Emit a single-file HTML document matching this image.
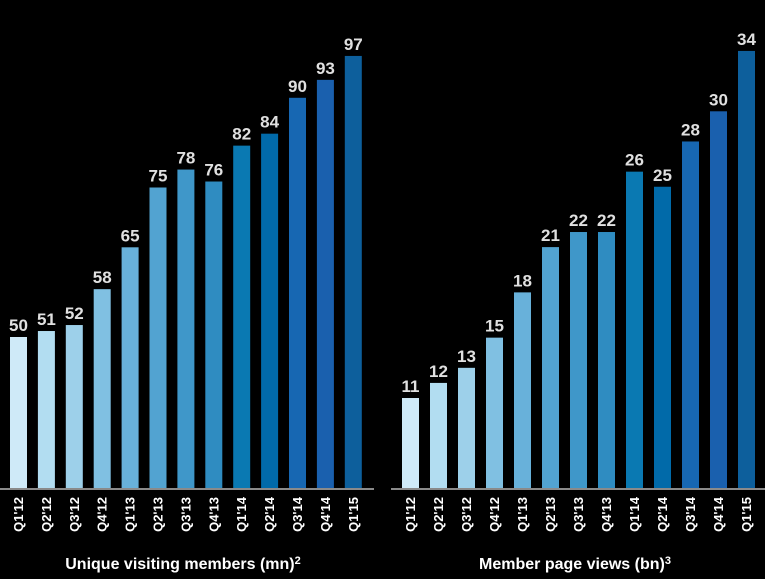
<!DOCTYPE html>
<html><head><meta charset="utf-8"><style>
html,body{margin:0;padding:0;background:#000;width:765px;height:579px;overflow:hidden}
svg{display:block}
text{font-family:"Liberation Sans",sans-serif;font-weight:bold}
</style></head><body>
<svg id="chart" width="765" height="579"></svg>
<script>
const categories=["Q1'12","Q2'12","Q3'12","Q4'12","Q1'13","Q2'13","Q3'13","Q4'13","Q1'14","Q2'14","Q3'14","Q4'14","Q1'15"];
const membersValues=[50,51,52,58,65,75,78,76,82,84,90,93,97];
const pageViewsValues=[11,12,13,15,18,21,22,22,26,25,28,30,34];
const colors=["#cfeaf8","#b2ddf1","#9dd0ea","#80c0e2","#68b1da","#52a3d1","#3f97c9","#2f8cc1","#0a79b2","#016aa9","#1767b2","#1a60ae","#0d5f9c"];
const svg=document.getElementById('chart');
const NS='http://www.w3.org/2000/svg';
function mk(tag,attrs){const e=document.createElementNS(NS,tag);for(const k in attrs)e.setAttribute(k,attrs[k]);svg.appendChild(e);return e;}
function drawChart(name,values,x0,pitch,base,a,b,axisX1,axisX2,title,titleX,sup){
  const yScale=v=>a-b*v;
  const baseY=489;
  values.forEach((v,i)=>{
    const x=x0+i*pitch;
    const y=yScale(v);
    const r=mk('rect',{x:x,y:y,width:17,height:baseY-y,fill:colors[i]});
    
    
    const t=mk('text',{x:x+8.5,y:y-6,'text-anchor':'middle','font-size':'17',fill:'#e0e0e0'});
    t.textContent=v;
    
    
    const c=mk('text',{x:0,y:0,'text-anchor':'end','font-size':'13',fill:'#fff',transform:'translate('+(x+13)+',497) rotate(-90)'});
    c.textContent=categories[i];
    
    
  });
  const l=mk('rect',{x:axisX1,y:488,width:axisX2-axisX1,height:2,fill:'#8a8a8a'});
  
  
  const tt=mk('text',{x:titleX,y:569,'text-anchor':'middle','font-size':'16',fill:'#fff'});
  tt.textContent=title;
  const s=document.createElementNS(NS,'tspan');s.setAttribute('font-size','11');s.setAttribute('dy','-5');s.textContent=sup;tt.appendChild(s);
  
  
}
drawChart('members',membersValues,10,27.9,25,636,5.98,0,374,'Unique visiting members (mn)',183,'2');
drawChart('page-views',pageViewsValues,402,28,5,564,15.09,391,765,'Member page views (bn)',575,'3');
</script>
</body></html>
